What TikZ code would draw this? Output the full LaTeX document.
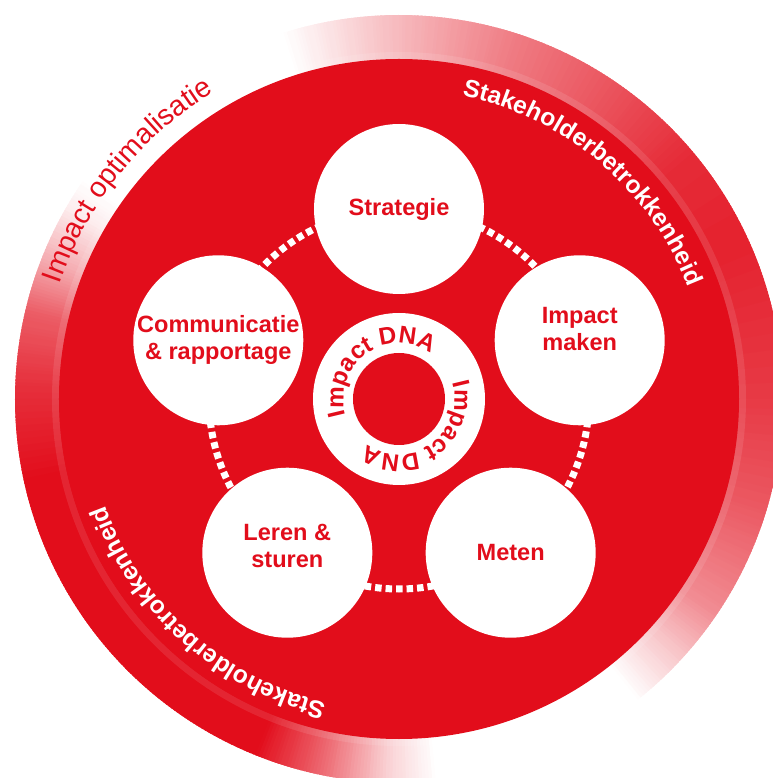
\documentclass[tikz,border=0pt]{standalone}
\usepackage{fontspec}
\setmainfont{Liberation Sans}
\usepackage{tikz}
\usetikzlibrary{decorations.text, positioning}
\definecolor{dnared}{HTML}{E20D1B}

\begin{document}
\begin{tikzpicture}[
  phase/.style={circle, fill=white, minimum size=3.4cm, inner sep=0pt},
  phaselabel/.style={font=\fontsize{13.4}{15.2}\selectfont\bfseries, text=dnared, align=center},
  dotring/.style={draw=white, line width=0.14cm, dash pattern=on 0.13cm off 0.08cm},
  arctext/.style={decorate, decoration={text along path, text align=center, text={#1}}}
]
  \useasboundingbox (-7.98,-7.58) rectangle (7.46,7.98);

  % outer band, faded half a degree at a time
  \foreach \a/\b/\p/\q in {-52/-42/0/25, -42/-34/25/48, -34/-16/48/70, -16/0/70/82, 0/25/82/92, 25/40/92/88, 40/55/88/72, 55/72/72/55, 72/93/55/25, 93/108/25/0,
                           145/150/0/8, 150/158/8/33, 158/167/33/68, 167/178/68/86, 178/192/86/100, 192/248/100/100, 248/255/100/75, 255/260/75/55, 260/268/55/20, 268/276/20/0} {
    \pgfmathtruncatemacro{\n}{2*(\b-\a)}
    \foreach \i in {1,...,\n} {
      \pgfmathsetmacro{\t}{\a+(\i-1)/2}
      \pgfmathtruncatemacro{\c}{\p+(\q-\p)*(\i-0.5)/\n}
      \fill[dnared!\c!white] (\t:6.75) arc[start angle=\t, end angle=\t+0.8, radius=6.75] -- (\t+0.8:7.68) arc[start angle=\t+0.8, end angle=\t, radius=7.68] -- cycle;
    }
  }
  \draw[white, opacity=0.1, line width=0.14cm] (0,0) circle[radius=6.87];

  \fill[dnared] (0,0) circle[radius=6.8];

  % texts on the rings
  \path[arctext={|\fontsize{16.2}{18}\selectfont\color{dnared}|Impact optimalisatie}] (201.2:7.16) arc[start angle=201.2, end angle=81.2, radius=7.16];
  \path[arctext={|\fontsize{14}{16}\selectfont\bfseries\color{white}|Stakeholderbetrokkenheid}] (109.7:6.2) arc[start angle=109.7, end angle=-10.3, radius=6.2];
  \path[arctext={|\fontsize{14}{16}\selectfont\bfseries\color{white}|Stakeholderbetrokkenheid}] (288.2:6.25) arc[start angle=288.2, end angle=168.2, radius=6.25];

  \draw[dotring] (0,0) circle[radius=3.8];

  \node[phase] (strat) at (90:3.8) {};
  \node[phase] (impact) at (18:3.8) {};
  \node[phase] (meten) at (-54:3.8) {};
  \node[phase] (leren) at (-126:3.8) {};
  \node[phase] (comm) at (162:3.8) {};

  \node[phaselabel] (strat-l) at (strat) {Strategie};
  \node[phaselabel, yshift=0.22cm] (impact-l) at (impact) {Impact\\maken};
  \node[phaselabel] (meten-l) at (meten) {Meten};
  \node[phaselabel, yshift=0.14cm] (leren-l) at (leren) {Leren \&\\sturen};
  \node[phaselabel] (comm-l) at (comm) {Communicatie\\\& rapportage};

  % impact DNA core
  \node[circle, fill=white, minimum size=3.44cm, inner sep=0pt] (dna) at (0,0) {};
  \node[circle, fill=dnared, minimum size=1.84cm, inner sep=0pt] (dna-core) at (dna) {};
  \path[arctext={|\fontsize{13.8}{15}\selectfont\bfseries\color{dnared}|Impact DNA}] (216:1.11) arc[start angle=216, end angle=36, radius=1.11];
  \path[arctext={|\fontsize{13.8}{15}\selectfont\bfseries\color{dnared}|Impact DNA}] (36:1.11) arc[start angle=36, end angle=-144, radius=1.11];
\end{tikzpicture}
\end{document}
